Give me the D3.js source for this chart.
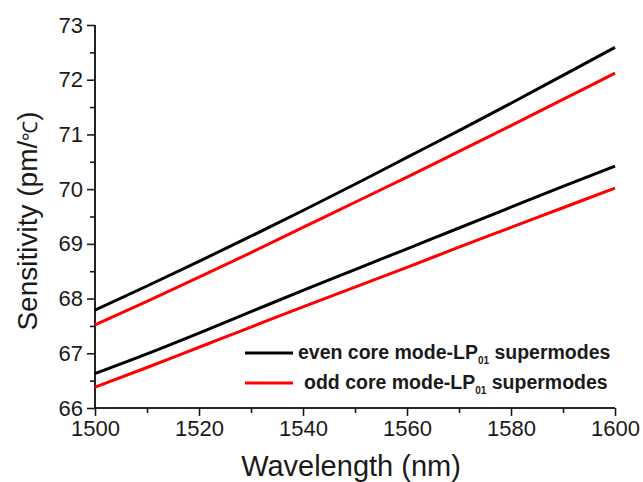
<!DOCTYPE html>
<html>
<head>
<meta charset="utf-8">
<script src="https://cdn.jsdelivr.net/npm/d3@7"></script>
<style>
html,body{margin:0;padding:0;background:#fff;}
svg{display:block;}
text{font-family:"Liberation Sans",Arial,sans-serif;fill:#1a1a1a;}
</style>
</head>
<body>
<svg id="chart" width="643" height="482"></svg>
<script>
const wavelengths = [1500,1510,1520,1530,1540,1550,1560,1570,1580,1590,1600];
const evenUpper = [67.79,68.23,68.68,69.14,69.61,70.09,70.58,71.07,71.57,72.08,72.59];
const oddUpper  = [67.52,67.95,68.39,68.84,69.30,69.76,70.22,70.69,71.16,71.64,72.12];
const evenLower = [66.63,66.99,67.37,67.76,68.15,68.53,68.91,69.29,69.67,70.05,70.42];
const oddLower  = [66.38,66.74,67.11,67.48,67.85,68.21,68.57,68.94,69.30,69.66,70.02];
const xTicks = [1500,1520,1540,1560,1580,1600];
const yTicks = [66,67,68,69,70,71,72,73];
const legendLabels = ["even core mode-LP", "odd core mode-LP"];

const svg = d3.select("#chart");
const x = d3.scaleLinear().domain([1500,1600]).range([95,615]);
const y = d3.scaleLinear().domain([66,73]).range([408,25]);

const xMinor = d3.range(1500,1601,10).filter(v=>!xTicks.includes(v));
const yMinor = d3.range(66.5,73,1);

const gx = svg.append("g").attr("transform","translate(0,408)");
gx.call(d3.axisBottom(x).tickValues(xMinor).tickSize(5).tickFormat(""));
gx.append("g").call(d3.axisBottom(x).tickValues(xTicks).tickSize(8).tickFormat(d3.format("d")).tickPadding(4));
gx.selectAll("path,line").attr("stroke","#1a1a1a").attr("stroke-width",1.6);
gx.selectAll(".domain").attr("d","M95,0H615");
gx.selectAll("text").attr("font-size",22).attr("fill","#1a1a1a").style("font-family","Liberation Sans, Arial, sans-serif");

const gy = svg.append("g").attr("transform","translate(95,0)");
gy.call(d3.axisLeft(y).tickValues(yMinor).tickSize(5).tickFormat(""));
gy.append("g").call(d3.axisLeft(y).tickValues(yTicks).tickSize(8).tickFormat(d3.format("d")).tickPadding(4));
gy.selectAll("path,line").attr("stroke","#1a1a1a").attr("stroke-width",1.6);
gy.selectAll(".domain").attr("d","M0,408V25");
gy.selectAll("text").attr("font-size",22).attr("fill","#1a1a1a").style("font-family","Liberation Sans, Arial, sans-serif");

// axis titles
svg.append("text").attr("x",351).attr("y",476).attr("text-anchor","middle")
  .attr("font-size",29).text("Wavelength (nm)");
const yt = svg.append("text").attr("transform","translate(37,221) rotate(-90)").attr("text-anchor","middle")
  .attr("font-size",28);
yt.append("tspan").text("Sensitivity (pm/");
yt.append("tspan").attr("font-size",20).text("℃");
yt.append("tspan").text(")");

const line = d3.line().x((d,i)=>x(wavelengths[i])).y(d=>y(d)).curve(d3.curveMonotoneX);
const series = [
  {v:evenUpper,c:"#000"},{v:oddUpper,c:"#ff0000"},
  {v:evenLower,c:"#000"},{v:oddLower,c:"#ff0000"}
];
svg.selectAll("path.s").data(series).enter().append("path").attr("class","s")
  .attr("d",d=>line(d.v)).attr("fill","none").attr("stroke",d=>d.c).attr("stroke-width",3);

// legend
const leg = [{t:legendLabels[0],c:"#000",y:353,tx:298},{t:legendLabels[1],c:"#ff0000",y:383,tx:304}];
leg.forEach(l=>{
  svg.append("line").attr("x1",245).attr("x2",293).attr("y1",l.y).attr("y2",l.y)
    .attr("stroke",l.c).attr("stroke-width",3);
  const t = svg.append("text").attr("x",l.tx).attr("y",l.y+6).attr("font-size",19.5).attr("font-weight","bold");
  t.append("tspan").text(l.t);
  t.append("tspan").attr("font-size",10).attr("dy",5).text("01");
  t.append("tspan").attr("dy",-5).text(" supermodes");
});
</script>
</body>
</html>
